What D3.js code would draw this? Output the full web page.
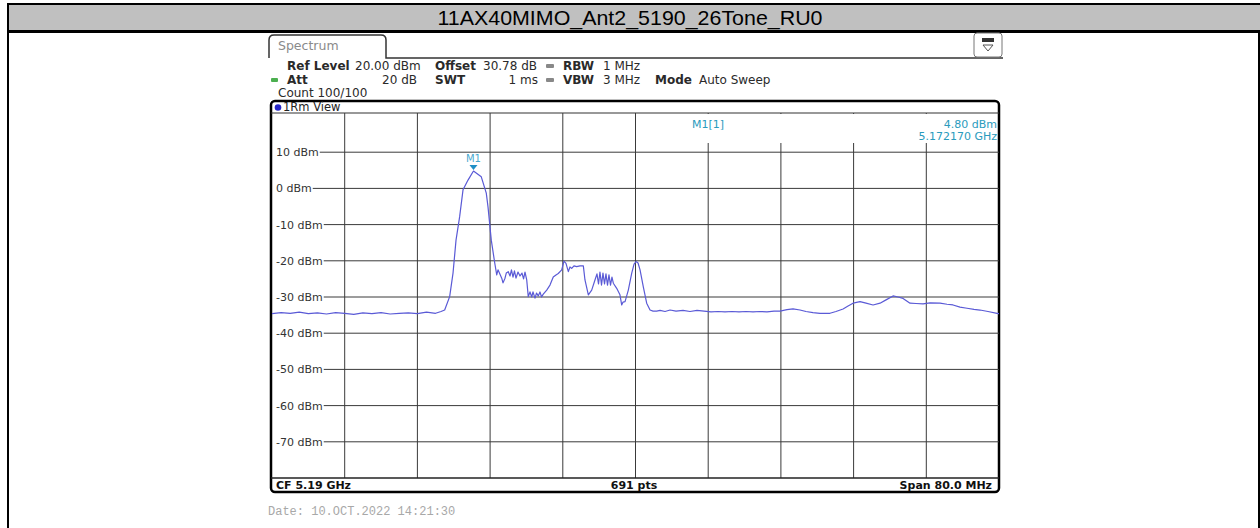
<!DOCTYPE html>
<html><head><meta charset="utf-8">
<script src="https://cdn.jsdelivr.net/npm/d3@7"></script>
<style>body{margin:0;background:#fff;overflow:hidden;} svg{display:block;}</style>
</head><body>
<script>
// ---------- data ----------
const chartTitle = "11AX40MIMO_Ant2_5190_26Tone_RU0";
const yTicks = [10, 0, -10, -20, -30, -40, -50, -60, -70];
const yTickLabels = ["10 dBm", "0 dBm", "-10 dBm", "-20 dBm", "-30 dBm", "-40 dBm", "-50 dBm", "-60 dBm", "-70 dBm"];
const xGridMHz = [5158, 5166, 5174, 5182, 5190, 5198, 5206, 5214, 5222];
const freqDomainMHz = [5150, 5230];
const levelDomainDbm = [-80, 20];
const traceFreqMHz = [
  5150.0, 5151.0, 5152.0, 5153.0, 5154.0, 5155.0, 5156.0, 5157.0, 5158.0, 5159.0,
  5160.0, 5161.0, 5162.0, 5163.0, 5164.0, 5165.0, 5166.0, 5167.0, 5168.0, 5168.6,
  5169.00, 5169.55, 5169.92, 5170.25, 5170.65, 5171.02, 5171.57, 5172.17, 5173.03, 5173.58,
  5173.77, 5174.13, 5174.51, 5174.73, 5174.87, 5175.28, 5175.42, 5175.64, 5175.78, 5176.00,
  5176.19, 5176.35, 5176.52, 5176.68, 5176.85, 5177.07, 5177.29, 5177.51, 5177.68, 5177.84,
  5178.03, 5178.20, 5178.39, 5178.58, 5178.72, 5178.94, 5179.11, 5179.30, 5179.49, 5179.66,
  5179.85, 5180.23, 5180.59, 5180.95, 5181.25, 5181.50, 5181.88, 5182.13, 5182.35, 5182.61,
  5182.79, 5182.98, 5183.23, 5183.53, 5183.89, 5184.26, 5184.44, 5184.81, 5185.18, 5185.54,
  5185.76, 5185.93, 5186.09, 5186.26, 5186.42, 5186.59, 5186.75, 5186.92, 5187.08, 5187.25,
  5187.41, 5187.56, 5187.93, 5188.29, 5188.48, 5188.63, 5188.85, 5189.21, 5189.58, 5189.84,
  5190.06, 5190.28, 5190.50, 5190.86, 5191.23, 5191.60, 5191.93, 5192.33, 5192.70, 5193.25,
  5193.80, 5194.46, 5195.23, 5196.00, 5196.77, 5197.54, 5198.31, 5199.08, 5199.85, 5200.62,
  5201.39, 5202.16, 5202.93, 5203.70, 5204.47, 5205.24, 5205.90, 5206.67, 5207.33, 5208.10,
  5208.76, 5209.53, 5210.30, 5210.96, 5211.40, 5212.06, 5212.84, 5213.39, 5213.94, 5214.71,
  5215.37, 5216.14, 5216.91, 5217.57, 5218.34, 5218.89, 5219.44, 5220.21, 5220.87, 5221.64,
  5222.41, 5223.51, 5224.28, 5224.94, 5225.71, 5226.48, 5227.25, 5227.91, 5228.79, 5229.78,
  5230.0
];
const traceLevelDbm = [
  -34.6, -34.3, -34.5, -34.2, -34.6, -34.4, -34.7, -34.3, -34.5, -34.8,
  -34.4, -34.6, -34.3, -34.7, -34.5, -34.4, -34.6, -34.2, -34.5, -34.0,
  -33.6, -29.9, -23.4, -14.3, -7.8, -0.4, 2.3, 4.8, 3.2, -1.3,
  -5.1, -14.3, -20.6, -23.9, -22.5, -24.8, -26.1, -24.8, -23.4, -23.0,
  -24.2, -22.5, -24.5, -22.8, -24.8, -23.1, -24.2, -23.4, -25.0, -23.1,
  -25.3, -29.9, -28.6, -30.0, -28.6, -30.3, -28.9, -29.7, -28.6, -30.0,
  -29.2, -28.1, -26.7, -24.5, -23.9, -23.5, -22.5, -20.1, -20.7, -23.0,
  -21.7, -22.1, -21.4, -21.6, -21.4, -21.4, -25.3, -29.4, -28.1, -25.3,
  -23.6, -26.4, -23.1, -26.7, -23.4, -26.4, -23.6, -26.7, -23.9, -26.7,
  -24.5, -26.2, -27.6, -29.4, -32.2, -31.4, -31.3, -28.1, -23.5, -20.9,
  -20.2, -20.6, -22.5, -27.2, -31.7, -33.6, -33.9, -33.9, -33.7, -34.0,
  -33.6, -33.9, -33.7, -34.0, -33.7, -33.9, -34.1, -34.0, -34.1, -34.0,
  -34.1, -34.0, -34.1, -34.0, -34.1, -33.9, -33.9, -33.5, -33.3, -33.6,
  -34.0, -34.3, -34.5, -34.5, -34.5, -34.0, -33.3, -32.5, -31.7, -31.3,
  -31.7, -32.2, -31.7, -30.8, -29.7, -30.0, -30.4, -31.7, -31.8, -31.9,
  -31.6, -31.7, -32.0, -32.2, -32.8, -33.1, -33.4, -33.6, -34.0, -34.5,
  -34.6
];
const markerName = "M1";
const markerFreqMHz = 5172.170;
const markerLevelDbm = 4.80;
const markerReadout = ["M1[1]", "4.80 dBm", "5.172170 GHz"];
const infoRow1 = [["Ref Level", true], ["20.00 dBm", false], ["Offset", true], ["30.78 dB", false], ["RBW", true], ["1 MHz", false]];
const infoRow2 = [["Att", true], ["20 dB", false], ["SWT", true], ["1 ms", false], ["VBW", true], ["3 MHz", false], ["Mode", true], ["Auto Sweep", false]];
const footerLabels = ["CF 5.19 GHz", "691 pts", "Span 80.0 MHz"];
const dateText = "Date: 10.OCT.2022  14:21:30";

// ---------- drawing ----------
const W = 1260, H = 528;
const svg = d3.select("body").append("svg").attr("width", W).attr("height", H);
svg.append("rect").attr("width", W).attr("height", H).attr("fill", "#fff");

// document table frame + title band
svg.append("rect").attr("x", 7).attr("y", 3).attr("width", W - 7).attr("height", 30).attr("fill", "#000");
svg.append("rect").attr("x", 9).attr("y", 5).attr("width", W - 9).attr("height", 25).attr("fill", "#c0c0c0");
svg.append("rect").attr("x", 7).attr("y", 3).attr("width", 2).attr("height", H - 3).attr("fill", "#000");
svg.append("rect").attr("x", W - 2).attr("y", 30).attr("width", 2).attr("height", H - 30).attr("fill", "#000");
svg.append("text").attr("x", 630).attr("y", 25).attr("text-anchor", "middle")
  .attr("font-family", "'Liberation Sans Narrow', 'Liberation Sans', Arial, sans-serif")
  .attr("font-size", 21).attr("fill", "#000")
  .attr("textLength", 385).attr("lengthAdjust", "spacingAndGlyphs")
  .text(chartTitle);

const UI = "'DejaVu Sans', Verdana, sans-serif";

// Spectrum tab + window top line
svg.append("path")
  .attr("d", "M269,58 L269,40 Q269,35 274,35 L381,35 Q386,35 386,40 L386,58 L1003,58")
  .attr("fill", "none").attr("stroke", "#333").attr("stroke-width", 1.5);
svg.append("text").attr("x", 278).attr("y", 50).attr("font-family", UI).attr("font-size", 12.5)
  .attr("fill", "#8a8a8a").text("Spectrum");

// icon at top right
const ic = svg.append("g");
ic.append("rect").attr("x", 974).attr("y", 33).attr("width", 28).attr("height", 24).attr("rx", 3)
  .attr("fill", "#fff").attr("stroke", "#777").attr("stroke-width", 1);
ic.append("rect").attr("x", 982).attr("y", 38).attr("width", 12).attr("height", 4).attr("fill", "#333");
ic.append("path").attr("d", "M983,45 L993,45 L988,51 Z").attr("fill", "none").attr("stroke", "#555");

// info rows
function infoText(x, y, str, bold, anchor) {
  svg.append("text").attr("x", x).attr("y", y).attr("font-family", UI).attr("font-size", 12)
    .attr("font-weight", bold ? "bold" : "normal").attr("fill", "#2a2a2a")
    .attr("text-anchor", anchor || "start").text(str);
}
const row1X = [287, 355, 435, 483, 563, 603];
infoRow1.forEach((d, i) => infoText(row1X[i], 70, d[0], d[1]));
const row2X = [[287, "start"], [417, "end"], [435, "start"], [538, "end"], [563, "start"], [603, "start"], [655, "start"], [699, "start"]];
infoRow2.forEach((d, i) => infoText(row2X[i][0], 84, d[0], d[1], row2X[i][1]));
infoText(278, 97, "Count 100/100", false);
// small status indicators
svg.append("rect").attr("x", 546).attr("y", 64).attr("width", 8).attr("height", 4).attr("rx", 1).attr("fill", "#888");
svg.append("rect").attr("x", 546).attr("y", 78).attr("width", 8).attr("height", 4).attr("rx", 1).attr("fill", "#888");
svg.append("rect").attr("x", 271).attr("y", 78).attr("width", 7).attr("height", 4).attr("rx", 1).attr("fill", "#4caf50");

// scales
const x = d3.scaleLinear().domain(freqDomainMHz).range([272, 999]);
const y = d3.scaleLinear().domain(levelDomainDbm).range([478, 116]);

// plot frame
svg.append("rect").attr("x", 271).attr("y", 101).attr("width", 728).attr("height", 391).attr("rx", 4)
  .attr("fill", "#fff").attr("stroke", "#000").attr("stroke-width", 2.5);
svg.append("line").attr("x1", 271).attr("x2", 999).attr("y1", 113).attr("y2", 113).attr("stroke", "#333").attr("stroke-width", 1.2);
svg.append("circle").attr("cx", 278).attr("cy", 107.5).attr("r", 3.3).attr("fill", "#2727c8");
svg.append("text").attr("x", 283).attr("y", 111).attr("font-family", UI).attr("font-size", 11.5).attr("fill", "#222").text("1Rm View");

// vertical grid
svg.append("g").selectAll("line").data(xGridMHz).join("line")
  .attr("x1", d => x(d)).attr("x2", d => x(d)).attr("y1", 113).attr("y2", 478)
  .attr("stroke", "#3a3a3a").attr("stroke-width", 1);

// marker readout box (covers vertical grid)
svg.append("rect").attr("x", 660).attr("y", 114).attr("width", 337).attr("height", 29).attr("fill", "#fff");
const teal = "#2a9bbd";
svg.append("text").attr("x", 692).attr("y", 128).attr("font-family", UI).attr("font-size", 11).attr("fill", teal).text(markerReadout[0]);
svg.append("text").attr("x", 997).attr("y", 128).attr("text-anchor", "end").attr("font-family", UI).attr("font-size", 11).attr("fill", teal).text(markerReadout[1]);
svg.append("text").attr("x", 997).attr("y", 140).attr("text-anchor", "end").attr("font-family", UI).attr("font-size", 11).attr("fill", teal).text(markerReadout[2]);

// horizontal grid with labels
const yg = svg.append("g");
yTicks.forEach((v, i) => {
  const t = yg.append("text").attr("x", 276).attr("y", y(v) + 4).attr("font-family", UI).attr("font-size", 11)
    .attr("fill", "#333").text(yTickLabels[i]);
  const w = t.node().getComputedTextLength();
  yg.append("line").attr("x1", 276 + w + 1).attr("x2", 999).attr("y1", y(v)).attr("y2", y(v))
    .attr("stroke", "#3a3a3a").attr("stroke-width", 1);
});

// bottom separator and footer
svg.append("line").attr("x1", 271).attr("x2", 999).attr("y1", 478).attr("y2", 478).attr("stroke", "#222").attr("stroke-width", 1.6);
svg.append("text").attr("x", 276).attr("y", 489).attr("font-family", UI).attr("font-size", 11).attr("font-weight", "bold").attr("fill", "#111").text(footerLabels[0]);
svg.append("text").attr("x", 634).attr("y", 489).attr("text-anchor", "middle").attr("font-family", UI).attr("font-size", 11).attr("font-weight", "bold").attr("fill", "#111").text(footerLabels[1]);
svg.append("text").attr("x", 992).attr("y", 489).attr("text-anchor", "end").attr("font-family", UI).attr("font-size", 11).attr("font-weight", "bold").attr("fill", "#111").text(footerLabels[2]);

// trace
const pts = traceFreqMHz.map((f, i) => [f, traceLevelDbm[i]]);
svg.append("defs").append("clipPath").attr("id", "pc").append("rect")
  .attr("x", 272).attr("y", 114).attr("width", 727).attr("height", 364);
svg.append("path").datum(pts).attr("clip-path", "url(#pc)")
  .attr("d", d3.line().x(d => x(d[0])).y(d => y(d[1])))
  .attr("fill", "none").attr("stroke", "#5a5ad6").attr("stroke-width", 1.2).attr("stroke-linejoin", "round");

// marker
const mx = x(markerFreqMHz), my = y(markerLevelDbm);
svg.append("path").attr("d", `M${mx - 4},${my - 6} L${mx + 4},${my - 6} L${mx},${my - 1} Z`).attr("fill", "#1f8fc6");
svg.append("text").attr("x", mx).attr("y", my - 9).attr("text-anchor", "middle").attr("font-family", UI)
  .attr("font-size", 10).attr("fill", "#4aa8cf").text(markerName);

// date
svg.append("text").attr("x", 268).attr("y", 515).attr("font-family", "'Liberation Mono', 'DejaVu Sans Mono', monospace")
  .attr("font-size", 12).attr("fill", "#a8a8a8").text(dateText);
</script>
</body></html>
